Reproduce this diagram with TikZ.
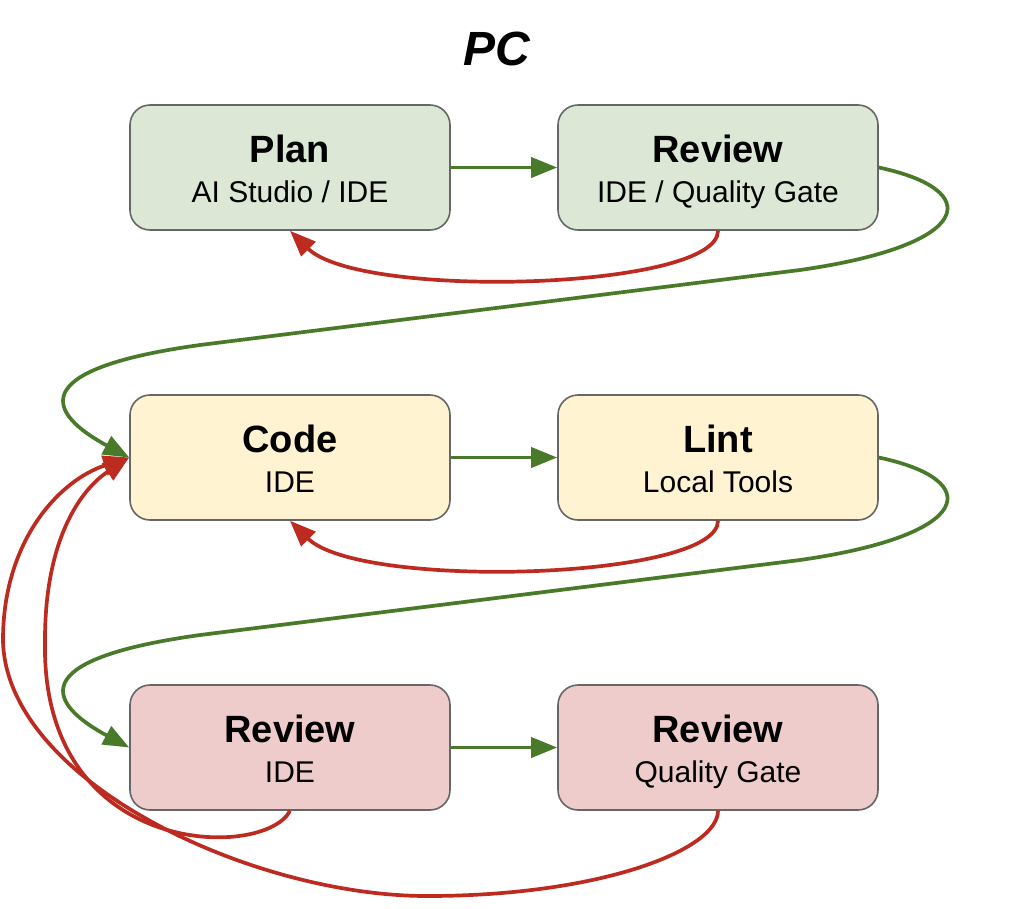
\documentclass[tikz,border=0pt]{standalone}
\usepackage{fontspec}
\setmainfont{Liberation Sans}
\usetikzlibrary{arrows.meta,positioning}
\definecolor{planfill}{HTML}{DCE8D5}
\definecolor{codefill}{HTML}{FFF3D2}
\definecolor{testfill}{HTML}{EECCCB}
\definecolor{boxline}{HTML}{666666}
\definecolor{fwdgreen}{HTML}{487A2A}
\definecolor{backred}{HTML}{BD2A20}
\newcommand{\stagetitle}[1]{{\bfseries\fontsize{38}{40}\selectfont\rule{0pt}{37pt}#1}}
\newcommand{\stagesub}[1]{#1\rule[-8pt]{0pt}{8pt}}

\begin{document}
\begin{tikzpicture}[
    x=1pt, y=-1pt,
    >={Triangle[length=26pt,width=20pt]},
    node distance=163.4pt and 106.4pt,
    stage/.style={draw=boxline, line width=1.6pt, rounded corners=20pt, align=center, minimum width=320pt, minimum height=125pt, font=\fontsize{30}{40}\selectfont},
    fwd/.style={->, draw=fwdgreen, line width=3.7pt},
    back/.style={->, draw=backred, line width=3.7pt}
]
\useasboundingbox (0,0) rectangle (1016,908);
\node[font=\bfseries\itshape\fontsize{48}{50}\selectfont, anchor=base] (pc) at (497,65) {PC};
% planning row
\node[stage, fill=planfill] (plan) at (290,167.5) {\stagetitle{Plan}\\\stagesub{AI Studio / IDE}};
\node[stage, fill=planfill, right=of plan] (planrev) {\stagetitle{Review}\\\stagesub{IDE / Quality Gate}};
% coding row
\node[stage, fill=codefill, below=of plan] (code) {\stagetitle{Code}\\\stagesub{IDE}};
\node[stage, fill=codefill, right=of code] (lint) {\stagetitle{Lint}\\\stagesub{Local Tools}};
% review row
\node[stage, fill=testfill, below=of code] (iderev) {\stagetitle{Review}\\\stagesub{IDE}};
\node[stage, fill=testfill, right=of iderev] (gaterev) {\stagetitle{Review}\\\stagesub{Quality Gate}};

\draw[fwd] (plan.east) -- (planrev.west);
\draw[fwd] (code.east) -- (lint.west);
\draw[fwd] (iderev.east) -- (gaterev.west);
\draw[fwd] (planrev.east) .. controls (985,190) and (975,245) .. (800,270) -- (200,345) .. controls (20,370) and (50,415) .. (code.west);
\draw[fwd] (lint.east) .. controls (985,480) and (975,535) .. (800,560) -- (200,635) .. controls (20,660) and (50,705) .. (iderev.west);

% loops back
\draw[back] (planrev.south) .. controls (718,290) and (360,300) .. (plan.south);
\draw[back] (lint.south) .. controls (718,580) and (360,590) .. (code.south);
\draw[back] (iderev.south) .. controls (265,860) and (40,860) .. (45,640) .. controls (45,540) and (80,490) .. (code.west);
\draw[back] (gaterev.south) .. controls (718,850) and (600,896) .. (427,896) .. controls (250,896) and (5,780) .. (3,640) .. controls (3,540) and (60,480) .. (code.west);
\end{tikzpicture}
\end{document}
